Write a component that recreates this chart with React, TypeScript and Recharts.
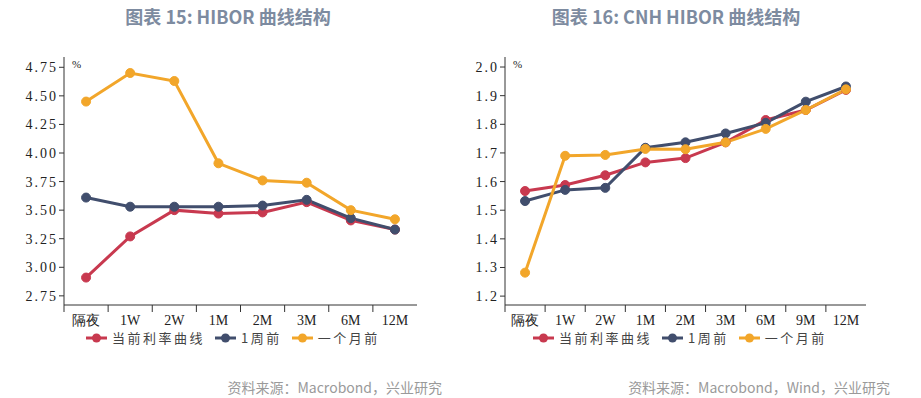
import React from "react";
import { LineChart, Line, XAxis, YAxis, Legend } from "recharts";

// HIBOR
const hiborTenors = ["隔夜", "1W", "2W", "1M", "2M", "3M", "6M", "12M"];
const hiborNow = [2.91, 3.27, 3.5, 3.47, 3.48, 3.57, 3.41, 3.33];
const hiborWeek = [3.61, 3.53, 3.53, 3.53, 3.54, 3.59, 3.43, 3.33];
const hiborMonth = [4.45, 4.7, 4.63, 3.91, 3.76, 3.74, 3.5, 3.42];
const hiborTicks = [2.75, 3.0, 3.25, 3.5, 3.75, 4.0, 4.25, 4.5, 4.75];

// CNH HIBOR
const cnhTenors = ["隔夜", "1W", "2W", "1M", "2M", "3M", "6M", "9M", "12M"];
const cnhNow = [1.567, 1.588, 1.622, 1.667, 1.682, 1.737, 1.815, 1.85, 1.92];
const cnhWeek = [1.532, 1.571, 1.578, 1.718, 1.737, 1.768, 1.805, 1.879, 1.932];
const cnhMonth = [1.282, 1.69, 1.693, 1.714, 1.713, 1.737, 1.784, 1.85, 1.922];
const cnhTicks = [1.2, 1.3, 1.4, 1.5, 1.6, 1.7, 1.8, 1.9, 2.0];

const seriesNames = ["当前利率曲线", "1周前", "一个月前"];
const colors = ["#c8394f", "#414e6d", "#f2a62a"];

const axisColor = "#333";
const serif = "'Liberation Serif', 'Times New Roman', serif";
const cjk = "'Noto Sans CJK SC', sans-serif";

function buildRows(tenors: string[], a: number[], b: number[], c: number[]) {
  return tenors.map((t, i) => ({ tenor: t, now: a[i], week: b[i], month: c[i] }));
}

const makeTick = (bw: number) => (props: any) => {
  const { x, y, payload } = props;
  return (
    <g>
      <line x1={x - bw / 2} x2={x - bw / 2} y1={y} y2={y + 7} stroke={axisColor} />
      <text x={x} y={y + 20} textAnchor="middle" fontSize={14} fontFamily={serif} fill="#222">
        {payload.value}
      </text>
    </g>
  );
};

function LegendContent() {
  return (
    <div style={{ display: "flex", alignItems: "center", fontFamily: cjk, fontSize: 13, color: "#444" }}>
      {seriesNames.map((n, i) => (
        <div key={n} style={{ display: "flex", alignItems: "center", marginRight: 10 }}>
          <svg width={21} height={10} style={{ marginRight: 5 }}>
            <line x1={0} x2={21} y1={5} y2={5} stroke={colors[i]} strokeWidth={3} />
            <circle cx={10.5} cy={5} r={4.5} fill={colors[i]} />
          </svg>
          <span style={{ letterSpacing: 2.5 }}>{n}</span>
        </div>
      ))}
    </div>
  );
}

type PanelProps = {
  left: number;
  width: number;
  title: string;
  source: string;
  tenors: string[];
  now: number[];
  week: number[];
  month: number[];
  ticks: number[];
  domain: [number, number];
  digits: number;
  marginLeft: number;
  marginRight: number;
  legendLeft: number;
  titleCenter: number;
  sourceRight: number;
};

function Panel(p: PanelProps) {
  const data = buildRows(p.tenors, p.now, p.week, p.month);
  const plotW = p.width - p.marginLeft - 44 - p.marginRight;
  const bw = plotW / p.tenors.length;
  const keys = ["now", "week", "month"];
  return (
    <div style={{ position: "absolute", left: p.left, top: 0, width: p.width, height: 398 }}>
      <div
        style={{
          position: "absolute",
          top: 3,
          left: p.titleCenter - 200,
          width: 400,
          textAlign: "center",
          fontFamily: cjk,
          fontWeight: 700,
          fontSize: 18,
          color: "#7d8ba0",
        }}
      >
        {p.title}
      </div>
      <LineChart
        width={p.width}
        height={398}
        data={data}
        margin={{ top: 57, left: p.marginLeft, right: p.marginRight, bottom: 63 }}
      >
        <XAxis
          dataKey="tenor"
          height={30}
          stroke={axisColor}
          tickLine={false}
          tickSize={0}
          tickMargin={0}
          interval={0}
          padding={{ left: bw / 2, right: bw / 2 }}
          tick={makeTick(bw)}
        />
        <YAxis
          width={44}
          domain={p.domain}
          ticks={p.ticks}
          type="number"
          stroke={axisColor}
          tickSize={5}
          tickMargin={1}
          interval={0}
          tickFormatter={(v: number) => v.toFixed(p.digits)}
          tick={{ fontSize: 14, fontFamily: serif, fill: "#222", letterSpacing: 2 }}
        />
        <Legend
          verticalAlign="middle"
          align="center"
          content={<LegendContent />}
          wrapperStyle={{ top: 328, left: p.legendLeft, width: "auto" }}
        />
        {keys.map((k, i) => (
          <Line
            key={k}
            dataKey={k}
            name={seriesNames[i]}
            stroke={colors[i]}
            strokeWidth={3}
            dot={{ r: 4.5, fill: colors[i], stroke: colors[i], strokeWidth: 1 }}
            activeDot={false}
            isAnimationActive={false}
          />
        ))}
      </LineChart>
      <div
        style={{
          position: "absolute",
          top: 58,
          left: p.marginLeft + 44 + 8,
          fontFamily: serif,
          fontSize: 11,
          color: "#222",
        }}
      >
        %
      </div>
      <div
        style={{
          position: "absolute",
          top: 377,
          right: p.sourceRight,
          fontFamily: cjk,
          fontSize: 14,
          color: "#9a9a9a",
          whiteSpace: "nowrap",
        }}
      >
        {p.source}
      </div>
    </div>
  );
}

export default function App() {
  return (
    <div style={{ position: "absolute", left: 0, top: 0, width: 921, height: 398, background: "#fff" }}>
      <Panel
        left={0}
        width={460}
        title="图表 15: HIBOR 曲线结构"
        source="资料来源：Macrobond，兴业研究"
        tenors={hiborTenors}
        now={hiborNow}
        week={hiborWeek}
        month={hiborMonth}
        ticks={hiborTicks}
        domain={[2.67, 4.84]}
        digits={2}
        marginLeft={20}
        marginRight={43}
        legendLeft={86}
        titleCenter={228}
        sourceRight={18}
      />
      <Panel
        left={460}
        width={461}
        title="图表 16: CNH HIBOR 曲线结构"
        source="资料来源：Macrobond，Wind，兴业研究"
        tenors={cnhTenors}
        now={cnhNow}
        week={cnhWeek}
        month={cnhMonth}
        ticks={cnhTicks}
        domain={[1.169, 2.035]}
        digits={1}
        marginLeft={1}
        marginRight={55}
        legendLeft={73}
        titleCenter={216}
        sourceRight={31}
      />
    </div>
  );
}
